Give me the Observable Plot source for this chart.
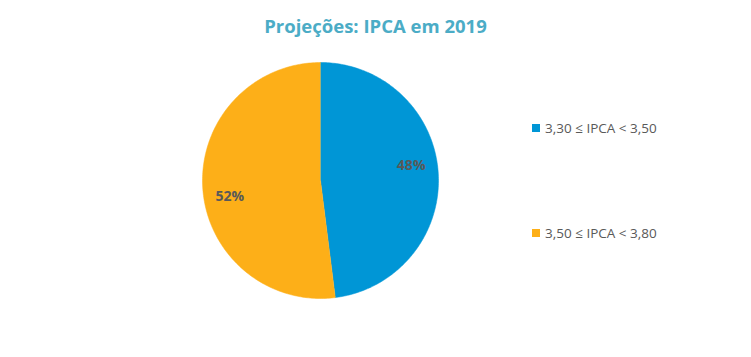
<!DOCTYPE html>
<html>
<head>
<meta charset="utf-8">
<script src="https://cdn.jsdelivr.net/npm/d3@7"></script>
<script src="https://cdn.jsdelivr.net/npm/@observablehq/plot@0.6"></script>
<style>
  html, body { margin: 0; padding: 0; background: #fff; }
  #wrap { position: relative; width: 751px; height: 357px; font-family: "Open Sans", "Noto Sans", sans-serif; }
  #title { position: absolute; left: 0; width: 751px; top: 13px; text-align: center; font-size: 18.5px; font-weight: bold; color: #4BACC6; }
  .leg { position: absolute; left: 532px; font-size: 13.5px; color: #595959; display: flex; align-items: center; white-space: nowrap; }
  .sw { width: 8px; height: 8px; margin-right: 5px; }
</style>
</head>
<body>
<div id="wrap">
  <div id="chart"></div>
  <div id="title">Projeções: IPCA em 2019</div>
  <div id="legend"></div>
</div>
<script>
const categories = ["3,30 ≤ IPCA < 3,50", "3,50 ≤ IPCA < 3,80"];
const values = [48, 52];
const labels = ["48%", "52%"];
const colors = ["#0096D6", "#FDAF18"];

const arcs = d3.pie().sort(null)(values);
const pts = [];
arcs.forEach((a, i) => {
  pts.push({cat: categories[i], x: 0, y: 0});
  const n = 200;
  for (let k = 0; k <= n; k++) {
    const t = a.startAngle + (a.endAngle - a.startAngle) * k / n;
    pts.push({cat: categories[i], x: Math.sin(t), y: Math.cos(t)});
  }
});
const labelData = arcs.map((a, i) => {
  const m = (a.startAngle + a.endAngle) / 2;
  return {text: labels[i], x: 0.77 * Math.sin(m), y: 0.77 * Math.cos(m)};
});

const chart = Plot.plot({
  width: 751,
  height: 357,
  x: {domain: [-1, 1], range: [202, 438], axis: null},
  y: {domain: [-1, 1], range: [298, 62], axis: null},
  color: {domain: categories, range: colors},
  style: {background: "white", fontFamily: "'Open Sans', sans-serif"},
  marks: [
    Plot.line(pts, {x: "x", y: "y", z: "cat", fill: "cat", stroke: "cat", strokeWidth: 0.5}),
    Plot.text([labelData[0]], {x: "x", y: "y", text: "text", fill: "#595959", fontWeight: "bold", fontSize: 14, dy: -9}),
    Plot.text([labelData[1]], {x: "x", y: "y", text: "text", fill: "#595959", fontWeight: "bold", fontSize: 14, dy: 10})
  ]
});
document.getElementById("chart").appendChild(chart);

const legTops = [119, 224];
const leg = document.getElementById("legend");
categories.forEach((c, i) => {
  const d = document.createElement("div");
  d.className = "leg";
  d.style.top = legTops[i] + "px";
  d.innerHTML = `<span class="sw" style="background:${colors[i]}"></span><span>${c}</span>`;
  leg.appendChild(d);
});
</script>
</body>
</html>
